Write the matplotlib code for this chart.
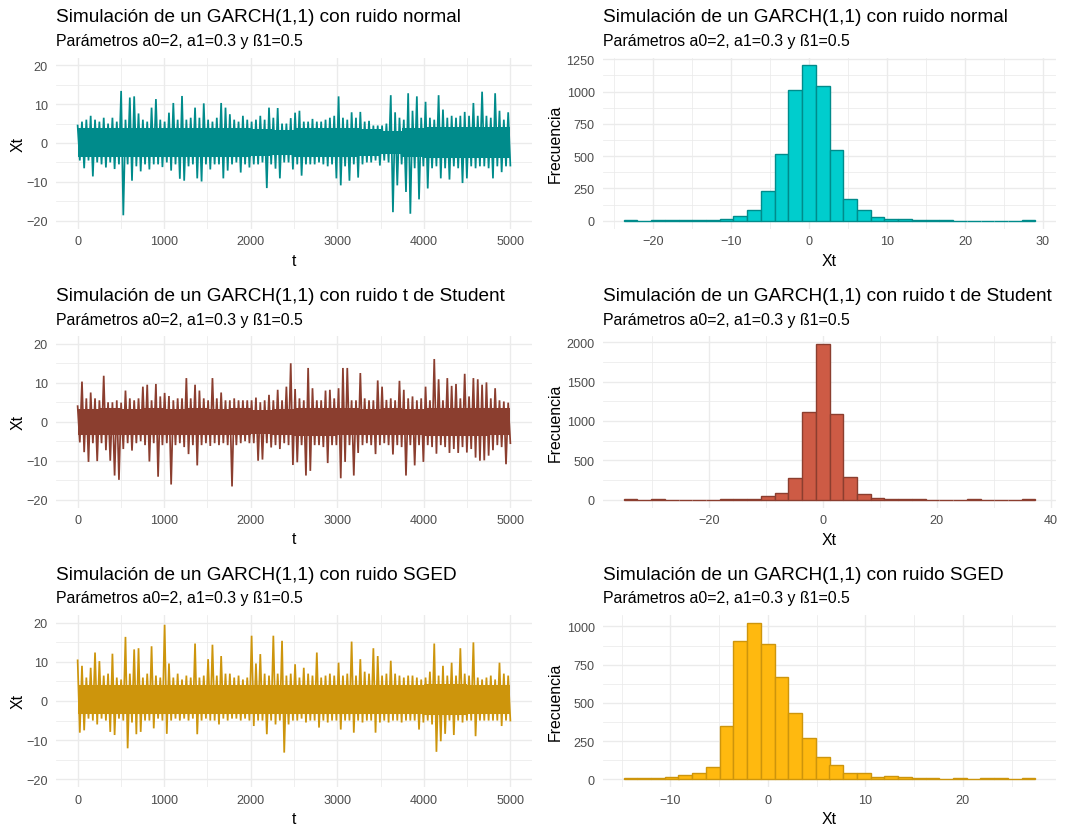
import numpy as np
import matplotlib
matplotlib.use("Agg")
import matplotlib.pyplot as plt
from matplotlib.ticker import MultipleLocator

plt.rcParams['font.family'] = ['Liberation Sans', 'DejaVu Sans']

# ---------------- data ----------------
n_obs = 5000

normal_hi = [4.5, 5.5, 6, 7, 6, 5.5, 6.5, 5, 6.5, 5.5,
             13.4, 6, 11.7, 12, 7.6, 6, 5.5, 9.1, 11.3, 6,
             5.5, 7.8, 10.3, 6, 12.1, 6, 6.5, 9.1, 6.5, 10.2,
             6, 5.5, 6.5, 10.3, 9.1, 7.4, 6, 5.5, 7, 6,
             5.5, 6, 7, 6, 9.1, 6.5, 9, 5, 5, 6.4,
             7.8, 8.3, 5.5, 5.5, 6.2, 5.5, 5.5, 6, 6.5, 7,
             12, 6.5, 6, 7.9, 6.5, 8, 5.5, 5.7, 4.5, 4.5,
             4.5, 5, 12.3, 7.9, 6.5, 6, 12.8, 8.3, 12, 6.5,
             10.6, 6.5, 6, 12.3, 8.6, 6.5, 7, 6.5, 7, 8,
             7, 10.3, 7, 13.2, 7, 6.5, 12.8, 8.3, 6, 7.9]
normal_lo = [-4.5, -6.5, -4.5, -8.6, -5, -5.5, -6.3, -5, -6.7, -5.5,
             -18.6, -5.5, -9.7, -6, -7.3, -5.5, -6.8, -5.5, -5.5, -6.2,
             -5, -7.1, -5.5, -9.2, -9.7, -6, -5.5, -9.1, -9.9, -5.5,
             -6.8, -5.5, -5.5, -9.1, -7.1, -5.5, -5, -7.6, -5.5, -6.3,
             -5.5, -5.5, -5, -11.6, -5.5, -6.6, -9.1, -5, -5, -6.8,
             -5.5, -8.4, -5.5, -5.5, -5.5, -5, -5.5, -6, -5.5, -9.1,
             -10.9, -6, -9.7, -5.5, -8.9, -5.5, -5, -5, -4.5, -5.8,
             -4.5, -5, -17.8, -10.9, -5.5, -12.6, -18.2, -6.5, -14.5, -6,
             -11.7, -6.5, -6, -9.1, -6.5, -9.4, -6, -6.5, -10.3, -9.1,
             -6, -6.5, -6, -6, -6.5, -9.1, -6, -7.5, -6, -5.8]
# dense core (upper / lower edge), per block of 250 observations
normal_core_up = [3.8, 3.9, 3.9, 3.8, 3.9, 3.8, 3.9, 3.8, 3.5, 3.3,
                  3.9, 3.8, 3.9, 3.5, 3.1, 3.8, 4.1, 4.1, 4.1, 4.1]
normal_core_dn = [-3.6, -3.7, -3.7, -3.6, -3.7, -3.6, -3.7, -3.6, -3.3, -3.1,
                  -3.7, -3.6, -3.7, -3.3, -2.9, -3.6, -3.9, -3.9, -3.9, -3.9]

student_hi = [4, 10.3, 6, 7.5, 6, 5.5, 11.8, 5, 5, 5.5,
              4.9, 8, 6, 5.5, 6, 9, 9.5, 5.5, 9.7, 6.5,
              7.4, 6.6, 5.5, 6, 6, 11.2, 6, 9.5, 8, 6,
              5.5, 11.2, 6, 7.5, 5.5, 5.5, 6, 5.5, 5.5, 5.5,
              5.5, 6.2, 5, 5.5, 6.9, 5.5, 8.2, 5.5, 9, 15,
              8.4, 6, 5.5, 13.8, 8.6, 5.5, 5.5, 8, 8.2, 6,
              8.6, 13.8, 13.8, 5.5, 5.5, 12.5, 6, 5.5, 5.5, 10.6,
              9, 5.6, 6, 5.5, 10.5, 8.2, 6, 6.5, 5.5, 6,
              9, 5.5, 16.1, 10.9, 5.5, 11.2, 9.2, 9.7, 6, 12.3,
              6.5, 11.2, 10.9, 9.5, 10.1, 6, 8.6, 5.5, 5.2, 4.9]
student_lo = [-5.3, -7.8, -10.3, -5.5, -10.1, -5.5, -7.3, -10, -13.8, -14.9,
              -7, -5.5, -7.4, -5.5, -5, -6, -10.2, -5.5, -14.1, -6,
              -5.5, -16.1, -6, -5.5, -6.5, -8.3, -6, -11.2, -6, -5.5,
              -6.2, -5.5, -6, -5.5, -6, -16.6, -6, -5.5, -5, -5.5,
              -5.5, -10, -9.7, -5.5, -6.6, -6, -7, -5.5, -6, -11.1,
              -10.4, -6, -13.8, -12.6, -6, -6, -6.5, -10.6, -6, -6,
              -14.5, -10.3, -6, -13.8, -8, -6, -5.5, -6, -8.3, -6,
              -5.5, -6, -8.4, -6, -6.5, -13.8, -6, -11.2, -6, -10.3,
              -6, -6.5, -8.2, -6, -6.5, -8, -7, -8, -6.5, -7.9,
              -7, -9.2, -10, -9.9, -8.7, -7.3, -6, -6.5, -10.9, -5.5]
student_core_up = [3.3, 3.4, 3.3, 3.4, 3.3, 3.4, 3.3, 3.4, 3.1, 3.3,
                   3.6, 3.6, 3.4, 3.3, 3.4, 3.3, 3.6, 3.6, 3.6, 3.4]
student_core_dn = [-3.3, -3.4, -3.3, -3.4, -3.3, -3.4, -3.3, -3.4, -3.1, -3.3,
                   -3.6, -3.6, -3.4, -3.3, -3.4, -3.3, -3.6, -3.6, -3.6, -3.4]

sged_hi = [10.4, 9, 6, 8.5, 12.4, 10.2, 6.5, 7, 12.1, 6,
           5.5, 16.4, 7, 13.2, 13.5, 6, 7, 14, 6.5, 6,
           19.5, 9.6, 6, 7, 5.5, 6.5, 6, 14.7, 6, 6.5,
           10.7, 14.4, 6.5, 11.5, 7, 7, 6, 6.5, 5.5, 6,
           16.7, 9.6, 12, 7, 6.5, 16.7, 7, 15.4, 6.5, 7,
           9.4, 6, 8.5, 7, 6.5, 12.4, 6, 6.5, 7, 6.5,
           9.8, 6.5, 7, 15.2, 6.5, 10.7, 7.5, 7, 13.5, 11.5,
           6.5, 7, 10.3, 7, 6.5, 6, 6.5, 6.5, 6, 5.5,
           6, 7.5, 14.7, 6.5, 9, 6.5, 9.8, 6.5, 13.5, 7,
           6.5, 15, 6, 5.5, 6, 6.5, 5.5, 9.8, 7, 6.5]
sged_lo = [-8.1, -7.5, -4.5, -5, -6, -4.5, -5, -7.9, -8.7, -4.5,
           -5, -12.1, -5.5, -8.5, -7.9, -5, -5, -7, -4.5, -5,
           -8.4, -5, -4.5, -5, -4.5, -5, -4.5, -8.5, -5, -4.5,
           -5, -5, -6, -4.5, -5, -4.5, -4.5, -5, -4.5, -5,
           -6.4, -5, -5, -8.5, -5, -6, -5, -13.2, -6, -5,
           -5, -4.5, -5.5, -5, -5, -6.8, -5, -5.5, -5, -5,
           -7.3, -5, -5, -8.1, -5, -5.5, -5, -5, -8.1, -5.5,
           -5, -5.5, -5, -5, -5.5, -5, -5, -5, -7.3, -5.5,
           -5, -6, -13, -10.3, -8.4, -5, -8.7, -5, -5.5, -5,
           -5, -9, -5, -5, -5, -5, -5, -6.4, -5, -5]
sged_core_up = [4.2, 4.0, 4.2, 4.0, 4.2, 4.0, 4.2, 4.0, 4.2, 4.0,
                4.2, 4.0, 4.2, 4.0, 4.2, 4.0, 4.4, 4.4, 4.2, 4.0]
sged_core_dn = [-3.4, -3.3, -3.4, -3.3, -3.4, -3.3, -3.4, -3.3, -3.4, -3.3,
                -3.4, -3.3, -3.4, -3.3, -3.4, -3.3, -3.6, -3.6, -3.4, -3.3]

# histograms (30 bins each): first bin edge, bin width, counts
normal_bin_start, normal_bin_width = -23.83, 1.762
normal_counts = [2, 1, 3, 4, 2, 4, 5, 12, 33, 85, 232, 513, 1010, 1204, 1044,
                 549, 170, 85, 26, 13, 12, 4, 2, 2, 1, 1, 1, 1, 1, 3]
student_bin_start, student_bin_width = -34.95, 2.41
student_counts = [3, 1, 3, 2, 1, 1, 1, 5, 8, 13, 47, 85, 280, 1108, 1980,
                  1091, 293, 68, 25, 12, 8, 4, 2, 2, 2, 3, 1, 1, 2, 3]
sged_bin_start, sged_bin_width = -14.8, 1.408
sged_counts = [6, 6, 5, 12, 28, 41, 83, 349, 906, 1024, 884, 672, 434, 271, 146,
               94, 41, 39, 17, 20, 15, 8, 8, 4, 6, 3, 6, 6, 3, 6]

title_normal = "Simulación de un GARCH(1,1) con ruido normal"
title_student = "Simulación de un GARCH(1,1) con ruido t de Student"
title_sged = "Simulación de un GARCH(1,1) con ruido SGED"
subtitle = "Parámetros a0=2, a1=0.3 y ß1=0.5"

# ---------------- figure ----------------
W, H = 1074, 829
fig = plt.figure(figsize=(W / 100, H / 100), dpi=100)
fig.patch.set_facecolor('white')

GRID = '#EBEBEB'
TICKC = '#4D4D4D'
FS_TITLE, FS_SUB, FS_AX, FS_TICK = 13.7, 11.4, 11.4, 9.1


def px_axes(x0, y0, x1, y1):
    return fig.add_axes([x0 / W, 1 - y1 / H, (x1 - x0) / W, (y1 - y0) / H])


def style(ax, xmaj, xmin, ymaj, ymin):
    for s in ax.spines.values():
        s.set_visible(False)
    ax.xaxis.set_major_locator(MultipleLocator(xmaj))
    ax.xaxis.set_minor_locator(MultipleLocator(xmin))
    ax.yaxis.set_major_locator(MultipleLocator(ymaj))
    ax.yaxis.set_minor_locator(MultipleLocator(ymin))
    ax.grid(which='minor', color=GRID, lw=0.55)
    ax.grid(which='major', color=GRID, lw=1.0)
    ax.set_axisbelow(True)
    ax.tick_params(which='both', length=0)
    ax.tick_params(axis='x', which='major', pad=5.0, labelsize=FS_TICK, labelcolor=TICKC)
    ax.tick_params(axis='y', which='major', pad=6.0, labelsize=FS_TICK, labelcolor=TICKC)
    ax.tick_params(which='minor', labelbottom=False, labelleft=False)


def expand(lo, hi, f=0.05):
    r = hi - lo
    return lo - f * r, hi + f * r


def headings(x0, top, title):
    fig.text(x0 / W, 1 - (top - 36) / H, title, fontsize=FS_TITLE, va='baseline', ha='left')
    fig.text(x0 / W, 1 - (top - 12.5) / H, subtitle, fontsize=FS_SUB, va='baseline', ha='left')


LX0, LX1 = 56, 532
RX0, RX1 = 603, 1056
rows = [(58.5, 229.5), (337, 508.5), (616, 788)]

series = [(normal_hi, normal_lo, normal_core_up, normal_core_dn, '#008B8B', title_normal),
          (student_hi, student_lo, student_core_up, student_core_dn, '#8B3E2F', title_student),
          (sged_hi, sged_lo, sged_core_up, sged_core_dn, '#CD950C', title_sged)]
hists = [(normal_bin_start, normal_bin_width, normal_counts, '#00CDCD', '#008B8B', 10, 5, 250, 125),
         (student_bin_start, student_bin_width, student_counts, '#CD5B45', '#8B3E2F', 20, 10, 500, 250),
         (sged_bin_start, sged_bin_width, sged_counts, '#FFB90F', '#CD950C', 10, 5, 250, 125)]

for r, ((top, bot), (hi, lo, cup, cdn, col, title), hs) in enumerate(zip(rows, series, hists)):
    # time series
    ax = px_axes(LX0, top, LX1, bot)
    cup = np.asarray(cup)
    cdn = np.asarray(cdn)
    tc = np.linspace(1, n_obs, len(cup) + 1)
    ax.fill_between(tc, np.append(cdn, cdn[-1]), np.append(cup, cup[-1]),
                    step='post', color=col, lw=0)
    t = np.linspace(1, n_obs, 2 * len(hi))
    y = np.column_stack([hi, lo]).ravel()
    ax.plot(t, y, color=col, lw=1.25, solid_joinstyle='miter')
    ax.set_xlim(*expand(1, n_obs))
    ax.set_ylim(*expand(-20, 20))
    style(ax, 1000, 500, 10, 5)
    headings(LX0, top, title)
    fig.text((LX0 + LX1) / 2 / W, 1 - (bot + 31.5) / H, 't', fontsize=FS_AX, ha='center', va='center')
    fig.text(18 / W, 1 - (top + bot) / 2 / H, 'Xt', fontsize=FS_AX, ha='center', va='center', rotation=90)

    # histogram
    start, width, counts, fill, edge, xmaj, xmin, ymaj, ymin = hs
    ax2 = px_axes(RX0, top, RX1, bot)
    edges = start + width * np.arange(len(counts))
    ax2.bar(edges, counts, width=width, align='edge', color=fill, edgecolor=edge, linewidth=1.0)
    ax2.set_xlim(*expand(start, start + width * len(counts)))
    ax2.set_ylim(*expand(0, max(counts)))
    style(ax2, xmaj, xmin, ymaj, ymin)
    headings(RX0, top, title)
    fig.text((RX0 + RX1) / 2 / W, 1 - (bot + 32) / H, 'Xt', fontsize=FS_AX, ha='center', va='center')
    fig.text(555 / W, 1 - (top + bot) / 2 / H, 'Frecuencia', fontsize=FS_AX, ha='center', va='center', rotation=90)

fig.savefig('out.png', dpi=100, facecolor='white')
